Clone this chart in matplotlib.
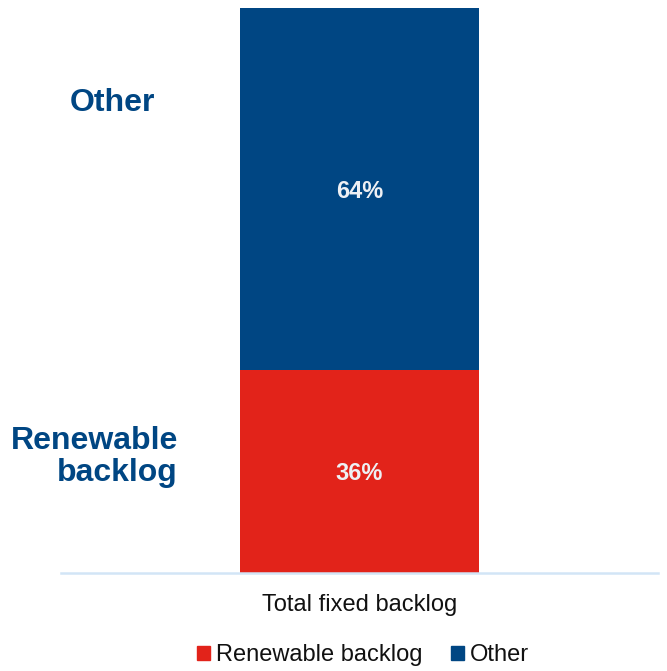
import matplotlib.pyplot as plt
from matplotlib.patches import Patch

plt.rcParams['font.family'] = ['Liberation Sans', 'DejaVu Sans']

# backlog split, share of total
categories = ["Total fixed backlog"]
segments = ["Renewable backlog", "Other"]
shares = [36, 64]
colors = ["#E2231A", "#004683"]
label_blue = "#004683"

fig = plt.figure(figsize=(6.67, 6.71), dpi=100)
ax = fig.add_axes([61 / 667, 1 - 573 / 671, 597 / 667, 565 / 671])

bottom = 0
for name, val, col in zip(segments, shares, colors):
    ax.bar(categories, val, width=0.4, bottom=bottom, color=col, label=name)
    ax.text(0, bottom + val / 2, str(val) + "%", ha="center", va="center_baseline",
            color="#EEF0F4", fontsize=17, fontweight="bold")
    bottom += val

ax.set_xlim(-0.5, 0.5)
ax.set_ylim(0, sum(shares))
ax.set_yticks([])
ax.tick_params(axis="x", length=0, pad=15, labelsize=17, labelcolor="#111111")

for s in ["top", "right", "left"]:
    ax.spines[s].set_visible(False)
ax.spines["bottom"].set_color("#D2E5F6")
ax.spines["bottom"].set_linewidth(1.8)

# side labels for each segment
fig.text(112 / 667, 1 - 103 / 671, "Other", ha="center", va="center",
         color=label_blue, fontsize=23, fontweight="bold")
fig.text(178 / 667, 1 - 457 / 671, "Renewable\nbacklog", ha="right", va="center",
         multialignment="right", color=label_blue, fontsize=23,
         fontweight="bold", linespacing=1.1)

handles = [Patch(color=c, label=n) for n, c in zip(segments, colors)]
fig.legend(handles=handles, loc="center", bbox_to_anchor=(363 / 667, 1 - 655 / 671),
           ncol=2, frameon=False, fontsize=17, handlelength=0.55, handleheight=0.55,
           handletextpad=0.25, columnspacing=1.2, labelcolor="#111111")

fig.savefig("out.png", dpi=100)
